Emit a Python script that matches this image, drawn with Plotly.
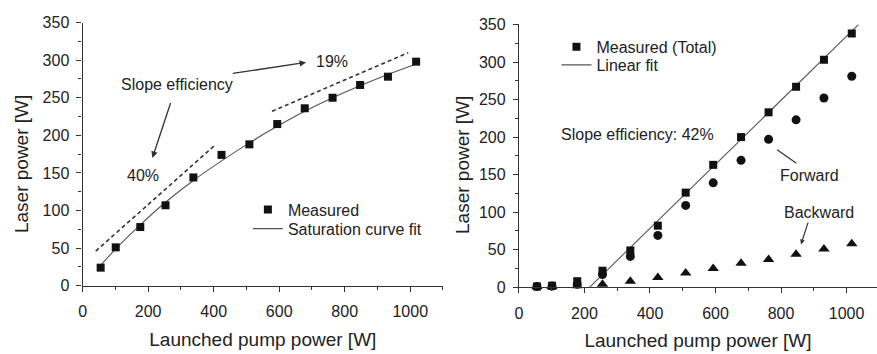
import plotly.graph_objects as go

# ---------------- data ----------------
# Left panel
pump_left = [55, 101, 176, 253, 338, 424, 509, 594, 678, 763, 847, 932, 1018]
measured_left = [24, 51, 78, 107, 144, 174, 188, 215, 236, 250, 267, 278, 298]
fit_left_x = [55, 101, 176, 253, 338, 424, 509, 594, 678, 763, 847, 932, 1018]
fit_left_y = [27, 49, 81, 111, 140, 166, 190, 212, 232, 250, 266, 281, 295]
slope40_x = [40, 404]
slope40_y = [46, 187]
slope19_x = [578, 994]
slope19_y = [232, 310]

# Right panel
pump_right = [55, 101, 178, 255, 340, 424, 509, 593, 678, 762, 846, 931, 1016]
total = [1, 2, 8, 22, 49, 82, 126, 163, 200, 233, 267, 303, 338]
forward = [1, 1.5, 4, 17, 41, 69, 109, 139, 169, 197, 223, 252, 281]
backward = [0.5, 0.5, 2, 4, 8, 13, 19, 25, 32, 37, 44, 51, 58]
linfit_x = [216, 1037]
linfit_y = [0, 350]

x_ticks = [0, 200, 400, 600, 800, 1000]
y_ticks = [0, 50, 100, 150, 200, 250, 300, 350]

FONT = "Arial, Liberation Sans, sans-serif"
TXT = "#222222"
AX = "#333333"
MK = "#111111"
FIT = "#555555"

fig = go.Figure()

# ---- left panel ----
fig.add_trace(go.Scatter(x=slope40_x, y=slope40_y, mode="lines", showlegend=False,
                         line=dict(color=AX, width=1.6, dash="4px,3px"), xaxis="x", yaxis="y"))
fig.add_trace(go.Scatter(x=slope19_x, y=slope19_y, mode="lines", showlegend=False,
                         line=dict(color=AX, width=1.6, dash="4px,3px"), xaxis="x", yaxis="y"))
fig.add_trace(go.Scatter(x=fit_left_x, y=fit_left_y, mode="lines", name="Saturation curve fit",
                         line=dict(color=FIT, width=1.1, shape="spline"), legend="legend2",
                         xaxis="x", yaxis="y"))
fig.add_trace(go.Scatter(x=pump_left, y=measured_left, mode="markers", name="Measured",
                         marker=dict(symbol="square", size=8, color=MK), legend="legend",
                         cliponaxis=False, xaxis="x", yaxis="y"))

# ---- right panel ----
fig.add_trace(go.Scatter(x=linfit_x, y=linfit_y, mode="lines", name="Linear fit",
                         line=dict(color=FIT, width=1.1), legend="legend4",
                         xaxis="x2", yaxis="y2"))
fig.add_trace(go.Scatter(x=pump_right, y=forward, mode="markers", name="Forward", showlegend=False,
                         marker=dict(symbol="circle", size=9, color=MK), cliponaxis=False,
                         xaxis="x2", yaxis="y2"))
fig.add_trace(go.Scatter(x=pump_right, y=backward, mode="markers", name="Backward", showlegend=False,
                         marker=dict(symbol="triangle-up", size=10, color=MK), cliponaxis=False,
                         xaxis="x2", yaxis="y2"))
fig.add_trace(go.Scatter(x=pump_right, y=total, mode="markers", name="Measured (Total)",
                         marker=dict(symbol="square", size=8, color=MK), legend="legend3",
                         cliponaxis=False, xaxis="x2", yaxis="y2"))

axis_common = dict(
    showline=True, linecolor=AX, linewidth=1.3, showgrid=False, zeroline=False,
    ticks="outside", ticklen=5, tickwidth=1.2, tickcolor=AX,
    tickfont=dict(family=FONT, size=16, color=TXT),
)

xcommon = dict(axis_common, tickvals=x_ticks, ticklabelstandoff=6,
               minor=dict(dtick=100, ticks="outside", ticklen=3, tickwidth=1, tickcolor=AX),
               title=dict(text="Launched pump power [W]", font=dict(family=FONT, size=19, color=TXT),
                          standoff=13))
ycommon = dict(axis_common, tickvals=y_ticks, range=[0, 350],
               minor=dict(dtick=25, ticks="outside", ticklen=3, tickwidth=1, tickcolor=AX),
               ticklabelstandoff=4)

W, H = 877, 354


def leg(text_x, row_y):
    return dict(x=(text_x - 43) / W, y=(H - (row_y - 15)) / H, xanchor="left", yanchor="top",
                bgcolor="rgba(0,0,0,0)", font=dict(family=FONT, size=16, color=TXT),
                tracegroupgap=0, itemwidth=30)


fig.update_layout(
    width=W, height=H,
    margin=dict(l=0, r=0, t=0, b=0),
    paper_bgcolor="white", plot_bgcolor="white",
    font=dict(family=FONT, size=16, color=TXT),
    xaxis=dict(xcommon, domain=[79 / W, 441 / W], range=[0, 1100], anchor="y"),
    yaxis=dict(ycommon, domain=[(H - 291.7) / H, (H - 15.3) / H], anchor="x"),
    xaxis2=dict(xcommon, domain=[517.3 / W, 1.0], range=[0, 1093], anchor="y2"),
    yaxis2=dict(ycommon, domain=[(H - 293.3) / H, (H - 17.3) / H], anchor="x2"),
    legend=leg(288, 209),
    legend2=leg(288, 229),
    legend3=leg(598, 38),
    legend4=leg(598, 57),
    showlegend=True,
)

ann_font = dict(family=FONT, size=16, color=TXT)
annotations = [
    # y-axis titles
    dict(text="Laser power [W]", xref="paper", yref="paper", x=17 / W, y=(H - 164) / H,
         textangle=-90, showarrow=False, font=dict(family=FONT, size=19, color=TXT),
         xanchor="center", yanchor="middle"),
    dict(text="Laser power [W]", xref="paper", yref="paper", x=460 / W, y=(H - 165) / H,
         textangle=-90, showarrow=False, font=dict(family=FONT, size=19, color=TXT),
         xanchor="center", yanchor="middle"),
    # left panel labels
    dict(text="Slope efficiency", x=289, y=267, xref="x", yref="y", showarrow=False, font=ann_font),
    dict(text="19%", x=761, y=298, xref="x", yref="y", showarrow=False, font=ann_font),
    dict(text="40%", x=185, y=147, xref="x", yref="y", showarrow=False, font=ann_font),
    dict(text="", x=213, y=170, ax=270, ay=245, xref="x", yref="y", axref="x", ayref="y",
         showarrow=True, arrowhead=2, arrowsize=1, arrowwidth=1.3, arrowcolor=AX),
    dict(text="", x=682, y=297, ax=454, ay=282, xref="x", yref="y", axref="x", ayref="y",
         showarrow=True, arrowhead=2, arrowsize=1, arrowwidth=1.3, arrowcolor=AX),
    # right panel labels
    dict(text="Slope efficiency: 42%", x=363, y=203, xref="x2", yref="y2", showarrow=False,
         font=ann_font),
    dict(text="Forward", x=887, y=149, xref="x2", yref="y2", showarrow=False, font=ann_font),
    dict(text="Backward", x=915, y=99, xref="x2", yref="y2", showarrow=False, font=ann_font),
    dict(text="", x=861, y=57, ax=884, ay=88, xref="x2", yref="y2", axref="x2", ayref="y2",
         showarrow=True, arrowhead=2, arrowsize=0.8, arrowwidth=1.2, arrowcolor=AX),
]
fig.update_layout(annotations=annotations)

fig.add_shape(type="line", x0=788, y0=183, x1=847, y1=165, xref="x2", yref="y2",
              line=dict(color=AX, width=1.2))

fig.write_html("out.html")
